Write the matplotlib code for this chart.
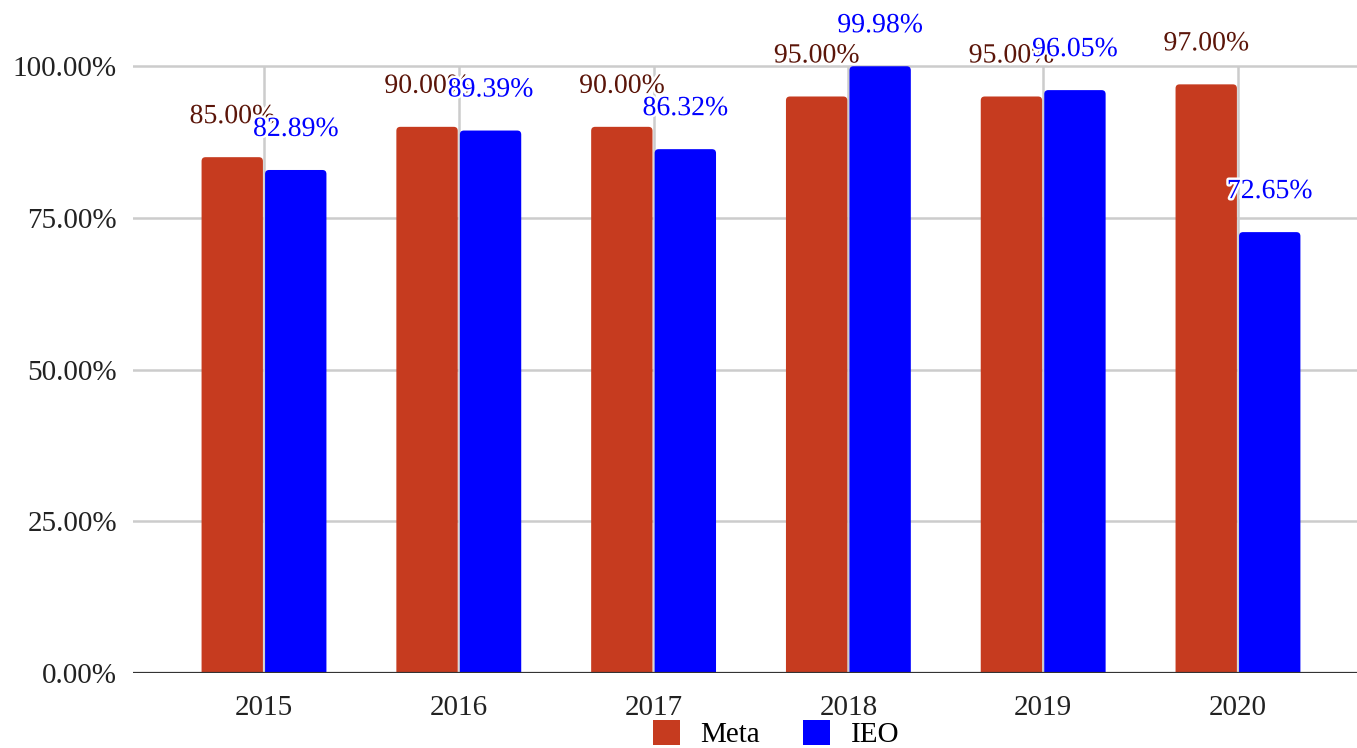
import matplotlib
matplotlib.use("Agg")
import matplotlib.pyplot as plt
import matplotlib.patheffects as pe
from matplotlib.patches import Patch, FancyBboxPatch
import numpy as np

plt.rcParams['font.family'] = ['Liberation Serif', 'DejaVu Serif']

years = ["2015", "2016", "2017", "2018", "2019", "2020"]
meta = [85.00, 90.00, 90.00, 95.00, 95.00, 97.00]
ieo = [82.89, 89.39, 86.32, 99.98, 96.05, 72.65]
yticks = [0, 25, 50, 75, 100]

meta_color = "#C63B1F"
ieo_color = "#0000FF"
meta_label_color = "#5B1509"

W, H = 1357, 748
fig = plt.figure(figsize=(W / 100, H / 100), dpi=100)
ax = fig.add_axes([133 / W, (H - 673) / H, (W - 133) / W, 673 / H])

x = np.arange(len(years))
width = 0.315
off = 0.163

ax.set_xlim(-0.6725, 5.611)
ax.set_ylim(0, 110.9)

# grid: horizontal lines across the plot, vertical lines at categories up to 100%
for t in yticks[1:]:
    ax.axhline(t, color="#CCCCCC", lw=1.8, zorder=0)
ax.vlines(x, 0, 100, color="#CCCCCC", lw=1.8, zorder=0)


def rounded_bars(xs, vals, color):
    """Bars with slightly rounded top corners."""
    bars = ax.bar(xs, vals, width, color=color, zorder=2)
    fig.canvas.draw()
    px_x = ax.transData.transform((1, 0))[0] - ax.transData.transform((0, 0))[0]
    px_y = ax.transData.transform((0, 1))[1] - ax.transData.transform((0, 0))[1]
    r_px = 4.0
    r = r_px / px_x
    aspect = px_x / px_y
    ext = r_px / px_y
    for b in bars:
        bx, by = b.get_x(), b.get_y()
        bw, bh = b.get_width(), b.get_height()
        b.set_visible(False)
        p = FancyBboxPatch((bx, by - ext), bw, bh + ext,
                           boxstyle=f"round,pad=0,rounding_size={r}",
                           mutation_aspect=aspect, facecolor=color,
                           edgecolor="none", zorder=2)
        ax.add_patch(p)


rounded_bars(x - off, meta, meta_color)
rounded_bars(x + off, ieo, ieo_color)
ax.axhline(0, color="#333333", lw=1.6, zorder=3)

halo = [pe.withStroke(linewidth=3.5, foreground="white")]
for xi, v in zip(x, meta):
    ax.annotate(f"{v:.2f}%", (xi - off, v), xytext=(0, 24.5), textcoords="offset points",
                ha="center", va="baseline", fontsize=20, color=meta_label_color,
                path_effects=halo, zorder=4, annotation_clip=False)
for xi, v in zip(x, ieo):
    ax.annotate(f"{v:.2f}%", (xi + off, v), xytext=(0, 24.5), textcoords="offset points",
                ha="center", va="baseline", fontsize=20, color=ieo_color,
                path_effects=halo, zorder=5, annotation_clip=False)

ax.set_xticks(x)
ax.set_xticklabels(years)
ax.set_yticks(yticks)
ax.set_yticklabels([f"{t:.2f}%" for t in yticks])
ax.tick_params(axis="both", length=0, labelsize=21, colors="#222222")
ax.tick_params(axis="x", pad=16)
ax.tick_params(axis="y", pad=11.5)
for lab in ax.get_yticklabels():
    lab.set_verticalalignment("center_baseline")
for s in ax.spines.values():
    s.set_visible(False)

handles = [Patch(facecolor=meta_color, label="Meta"),
           Patch(facecolor=ieo_color, label="IEO")]
fig.legend(handles=handles, loc="center", bbox_to_anchor=(776 / W, 14 / H),
           ncol=2, frameon=False, fontsize=21, handlelength=0.95, handleheight=0.95,
           handletextpad=0.7, columnspacing=1.45, borderpad=0, borderaxespad=0)

fig.savefig("out.png", dpi=100)
